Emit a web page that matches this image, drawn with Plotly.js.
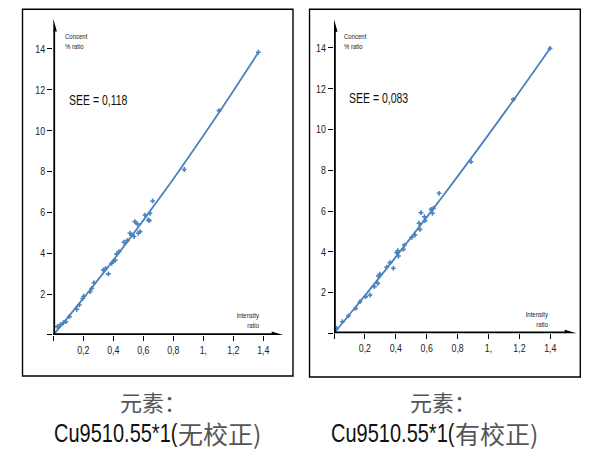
<!DOCTYPE html>
<html>
<head>
<meta charset="utf-8">
<script src="https://cdn.plot.ly/plotly-3.0.1.min.js"></script>
<style>
html,body{margin:0;padding:0;background:#fff;}
#chart{width:615px;height:449px;}
</style>
</head>
<body>
<div id="chart"></div>
<script>
// ---- data ----
const leftPointsX = [0.027,0.045,0.067,0.084,0.107,0.156,0.173,0.196,0.203,0.245,0.256,0.271,0.333,0.349,0.367,0.389,0.400,0.413,0.422,0.438,0.471,0.493,0.511,0.522,0.538,0.544,0.560,0.567,0.578,0.611,0.633,0.640,0.644,0.662,0.873,1.105,1.367];
const leftPointsY = [0.41,0.49,0.60,0.65,0.90,1.26,1.47,1.79,1.90,2.12,2.28,2.56,3.18,3.26,2.99,3.51,3.60,3.66,3.96,4.08,4.54,4.62,4.98,4.90,4.82,5.55,5.44,4.98,5.06,5.87,5.63,5.60,5.96,6.56,8.10,10.98,13.84];
const leftCurveX = [0,0.1,0.2,0.3,0.4,0.5,0.6,0.7,0.8,0.9,1.0,1.1,1.2,1.3,1.37];
const leftCurveY = [0,0.89,1.79,2.72,3.66,4.63,5.61,6.62,7.64,8.69,9.75,10.84,11.94,13.07,13.86];

const rightPointsX = [0.017,0.054,0.093,0.140,0.168,0.205,0.233,0.261,0.283,0.287,0.297,0.341,0.362,0.384,0.406,0.413,0.417,0.449,0.455,0.503,0.524,0.550,0.556,0.563,0.585,0.589,0.628,0.637,0.643,0.680,0.887,1.161,1.398];
const rightPointsY = [0.24,0.57,0.85,1.22,1.55,1.80,1.88,2.29,2.45,2.81,2.90,3.24,3.47,3.19,3.96,4.05,3.79,4.12,4.33,4.71,4.82,5.40,5.10,5.92,5.72,5.53,6.08,5.89,6.13,6.87,8.42,11.48,13.98];
const rightCurveX = [0,0.1,0.2,0.3,0.4,0.5,0.6,0.7,0.8,0.9,1.0,1.1,1.2,1.3,1.4];
const rightCurveY = [0,0.92,1.85,2.79,3.75,4.72,5.70,6.69,7.70,8.72,9.75,10.79,11.85,12.92,14.00];

const xTickVals = [0,0.2,0.4,0.6,0.8,1.0,1.2,1.4];
const xTickText = ['','0,2','0,4','0,6','0,8','1,','1,2','1,4'];
const yTickVals = [0,2,4,6,8,10,12,14];
const yTickText = ['','2','4','6','8','10','12','14'];

const seeLabels = ['SEE = 0,118','SEE = 0,083'];
const captionLine1 = ['元素：','元素：'];
const captionLatin = ['Cu9510.55*1(','Cu9510.55*1('];
const captionCJK = ['无校正)','有校正)'];

// ---- styling ----
const FONT = '"Liberation Sans",Arial,sans-serif';
const CJKFONT = '"Noto Sans CJK SC",sans-serif';
const BLUE = 'rgb(74,130,192)';
const NARROW = 0.8;   // horizontal squeeze to mimic a condensed face
const NARROW_SEE = 0.7;

function pts(x,y,xa,ya){
  return {x:x,y:y,xaxis:xa,yaxis:ya,type:'scatter',mode:'markers',
    marker:{symbol:'cross',size:4,color:BLUE,line:{width:0}},hoverinfo:'skip',cliponaxis:false};
}
function curve(x,y,xa,ya){
  return {x:x,y:y,xaxis:xa,yaxis:ya,type:'scatter',mode:'lines',line:{color:BLUE,width:1.8,shape:'spline'},hoverinfo:'skip',cliponaxis:false};
}
const data = [
  curve(leftCurveX,leftCurveY,'x','y'), pts(leftPointsX,leftPointsY,'x','y'),
  curve(rightCurveX,rightCurveY,'x2','y2'), pts(rightPointsX,rightPointsY,'x2','y2')
];

function xax(domain,anchor){
  return {domain:domain,anchor:anchor,range:[0,1.6],showgrid:false,zeroline:false,showline:false,
    tickvals:xTickVals,ticktext:xTickText,ticks:'outside',ticklen:5,tickwidth:1,tickcolor:'#000',
    tickfont:{family:FONT,size:11,color:'#222'},fixedrange:true};
}
function yax(domain,anchor){
  return {domain:domain,anchor:anchor,range:[0,15.5],showgrid:false,zeroline:false,showline:false,
    tickvals:yTickVals,ticktext:yTickText,ticks:'outside',ticklen:5,tickwidth:1,tickcolor:'#000',
    tickfont:{family:FONT,size:11,color:'#222'},fixedrange:true};
}

// axis arrows per panel (data units): [xref, yref, yTip, yBase, halfW, xTip, xBase, halfH]
const arrowSpec = [
  ['x','y',15.47,14.85,0.024,1.533,1.456,0.17],
  ['x2','y2',15.41,14.80,0.023,1.571,1.493,0.17]
];
const shapes = [];
arrowSpec.forEach(a=>{
  const [xr,yr,yt,yb,hw,xt,xb,hh]=a;
  shapes.push({type:'line',xref:xr,yref:yr,x0:0,y0:-0.08,x1:0,y1:yb+0.05,line:{color:'#000',width:3.6}});
  shapes.push({type:'line',xref:xr,yref:yr,x0:-0.012,y0:0,x1:xb+0.005,y1:0,line:{color:'#000',width:3.6}});
  shapes.push({type:'path',xref:xr,yref:yr,path:`M ${-hw} ${yb} L ${hw} ${yb} L 0 ${yt} Z`,fillcolor:'#000',line:{width:0}});
  shapes.push({type:'path',xref:xr,yref:yr,path:`M ${xb} ${-hh} L ${xb} ${hh} L ${xt} 0 Z`,fillcolor:'#000',line:{width:0}});
});
// frames
shapes.push({type:'rect',xref:'paper',yref:'paper',x0:0.0366,x1:0.4764,y0:0.1626,y1:0.9793,line:{color:'#000',width:1.4}});
shapes.push({type:'rect',xref:'paper',yref:'paper',x0:0.5033,x1:0.9436,y0:0.1604,y1:0.9793,line:{color:'#000',width:1.4}});

const annotations = [];
const panelRefs = [['x','y',0.063,14.93,1.385,1.28,0.089,11.53],['x2','y2',0.052,14.90,1.395,1.26,0.082,11.55]];
panelRefs.forEach((p,i)=>{
  const [xr,yr,cx,cy,ix,iy,sx,sy]=p;
  annotations.push({xref:xr,yref:yr,x:cx,y:cy,xanchor:'left',yanchor:'top',align:'left',showarrow:false,
    text:'Concent<br>% ratio',font:{family:FONT,size:7.5,color:'#222'}});
  annotations.push({xref:xr,yref:yr,x:ix,y:iy,xanchor:'right',yanchor:'top',align:'right',showarrow:false,
    text:'Intensity<br>ratio',font:{family:FONT,size:7.5,color:'#222'}});
  annotations.push({xref:xr,yref:yr,x:sx,y:sy,xanchor:'left',yanchor:'middle',align:'left',showarrow:false,
    text:seeLabels[i],font:{family:FONT,size:15,color:'#111'}});
});
const cap1X = [0.2488,0.7203];
const capJoinX = [0.2894,0.7398];
[0,1].forEach(i=>{
  annotations.push({xref:'paper',yref:'paper',x:cap1X[i],y:0.1069,xanchor:'center',yanchor:'middle',showarrow:false,
    text:captionLine1[i],font:{family:CJKFONT,size:22,color:'#555'}});
  annotations.push({xref:'paper',yref:'paper',x:capJoinX[i],xshift:1,y:0.0356,xanchor:'right',yanchor:'middle',align:'right',showarrow:false,borderpad:0,
    text:captionLatin[i],font:{family:FONT,size:25,color:'#111'}});
  annotations.push({xref:'paper',yref:'paper',x:capJoinX[i],xshift:-1,y:0.0356,xanchor:'left',yanchor:'middle',align:'left',showarrow:false,borderpad:0,
    width:92,height:34,
    text:captionCJK[i],font:{family:CJKFONT,size:25,color:'#555'}});
});

const layout = {
  width:615,height:449,margin:{l:0,r:0,t:0,b:0},paper_bgcolor:'#fff',plot_bgcolor:'rgba(0,0,0,0)',
  showlegend:false,
  xaxis:xax([0.0867,0.4769],'y'), yaxis:yax([0.2539,0.9592],'x'),
  xaxis2:xax([0.5431,0.9451],'y2'), yaxis2:yax([0.2577,0.9612],'x2'),
  shapes:shapes, annotations:annotations
};

function condense(gd){
  gd.querySelectorAll('text').forEach(t=>{
    const ff = (t.style.fontFamily||'');
    if(ff.indexOf('Liberation')<0) return;
    let bb; try{ bb = t.getBBox(); }catch(e){ return; }
    if(!bb || !bb.width) return;
    const s = (t.textContent||'').indexOf('SEE')===0 ? NARROW_SEE : NARROW;
    const anc = t.getAttribute('text-anchor') || t.style.textAnchor || 'start';
    let ox = bb.x + bb.width/2;
    if(anc==='start') ox = bb.x;
    else if(anc==='end') ox = bb.x + bb.width;
    const prev = t.getAttribute('transform') || '';
    t.setAttribute('transform', (prev+' translate('+ox+',0) scale('+s+',1) translate('+(-ox)+',0)').trim());
  });
}
Plotly.newPlot('chart',data,layout,{staticPlot:true,displayModeBar:false}).then(condense);
</script>
</body>
</html>
